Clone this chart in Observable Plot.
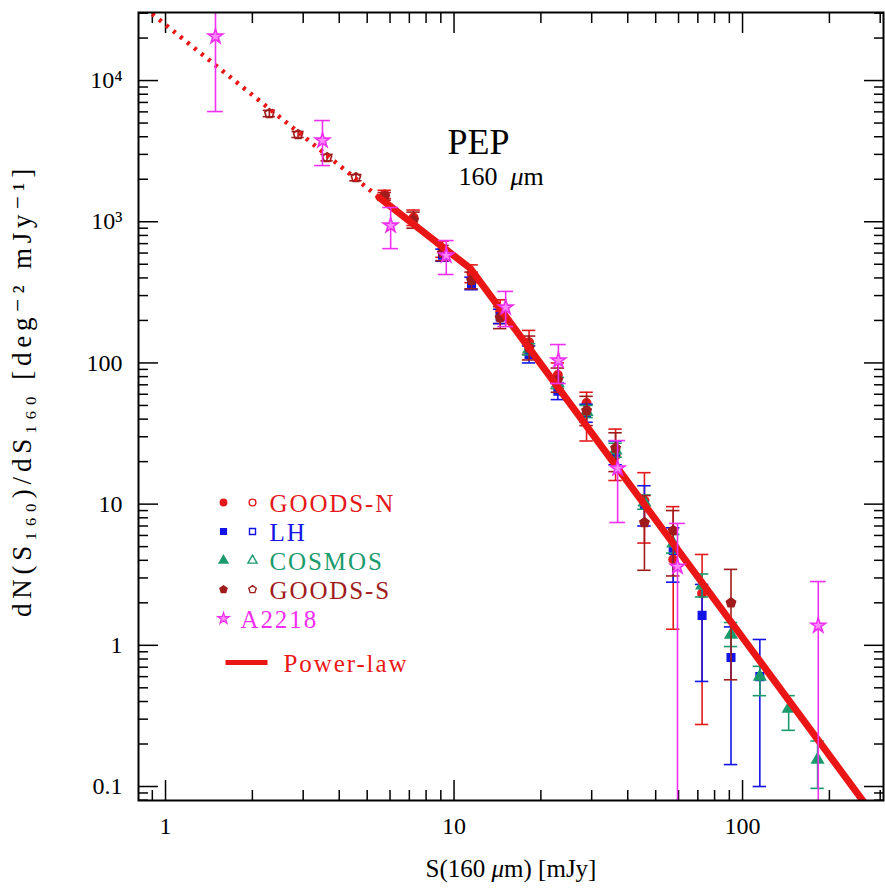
<!DOCTYPE html>
<html><head><meta charset="utf-8">
<script src="https://cdn.jsdelivr.net/npm/d3@7"></script>
<script src="https://cdn.jsdelivr.net/npm/@observablehq/plot@0.6"></script>
<style>body{margin:0;background:#fff}#chart svg{display:block}</style>
</head><body><div id="chart"></div>
<script>
// ---------------- data ----------------
// GOODS-S, open symbols (faint end)
const gsOpenS  = [2.29, 2.88, 3.63, 4.57];
const gsOpenN  = [5840, 4150, 2850, 2055];
const gsOpenLo = [5550, 3950, 2700, 1950];
const gsOpenHi = [6150, 4360, 3000, 2160];
// GOODS-N
const gnS  = [5.75, 7.24, 9.12, 11.5, 14.45, 18.2, 22.9, 28.8, 36.3, 45.7, 57.5, 72.4];
const gnN  = [1560, 1070, 640, 430, 230, 140, 82, 52, 22, 10.6, 4.05, 2.33];
const gnLo = [1460, 940, 560, 370, 190, 115, 66, 28, 14.7, 5.3, 1.3, 0.275];
const gnHi = [1670, 1210, 730, 495, 280, 170, 100, 62, 34, 16.7, 9.6, 4.4];
// LH
const lhS  = [9.12, 11.5, 14.45, 18.2, 22.9, 28.8, 36.3, 45.7, 57.5, 72.4, 91.2, 114.8];
const lhN  = [580, 365, 212, 115, 63, 44, 23, 9.8, 4.7, 1.63, 0.82, 0.60];
const lhLo = [525, 330, 190, 100, 55, 38, 19, 7.0, 2.8, 0.555, 0.143, 0.10];
const lhHi = [640, 405, 240, 132, 72, 51, 28, 13.5, 6.8, 2.7, 1.35, 1.1];
// COSMOS
const coS  = [18.2, 22.9, 28.8, 36.3, 45.7, 57.5, 72.4, 91.2, 114.8, 144.5, 182];
const coN  = [125, 72, 45, 24, 10.3, 5.26, 2.66, 1.19, 0.60, 0.356, 0.155];
const coLo = [114, 66, 41, 21.5, 9.2, 4.5, 2.2, 0.98, 0.44, 0.25, 0.097];
const coHi = [137, 79, 50, 27, 11.6, 6.1, 3.2, 1.45, 0.71, 0.44, 0.21];
// GOODS-S filled
const gsS  = [5.75, 7.24, 9.12, 11.5, 14.45, 18.2, 22.9, 28.8, 36.3, 45.7, 57.5, 91.2];
const gsN  = [1510, 1030, 600, 385, 210, 128, 76, 46, 25, 7.4, 6.5, 2.0];
const gsLo = [1420, 900, 530, 335, 175, 105, 62, 36, 17, 3.4, 3.1, 0.57];
const gsHi = [1610, 1170, 680, 440, 250, 155, 92, 58, 32, 11.5, 9.0, 3.45];
// A2218
const a2S  = [1.49, 3.5, 6.03, 9.4, 15.1, 23, 36.9, 59.5, 183];
const a2N  = [20500, 3760, 940, 577, 247, 104, 17.9, 3.61, 1.38];
const a2Lo = [6030, 2500, 645, 423, 181, 71.5, 7.41, 0.01, 0.01];
const a2Hi = [45000, 5210, 1262, 736, 321, 135, 28.2, 7.3, 2.83];
// power-law fit
const plFaintS = [0.85, 5.5];
const plFaintN = [32500, 1484];
const plS = [5.5, 11.4, 300];
const plN = [1484, 466, 0.054];

// ticks
const xMajor = [1, 10, 100];
const xMinor = [0.9, 2, 3, 4, 5, 6, 7, 8, 9, 20, 30, 40, 50, 60, 70, 80, 90, 200, 300];
const yMajor = [0.1, 1, 10, 100, 1000, 10000];
const yMajorLabels = ["0.1", "1", "10", "100", "10³", "10⁴"];
const yMinor = [0.08, 0.09, 0.2, 0.3, 0.4, 0.5, 0.6, 0.7, 0.8, 0.9, 2, 3, 4, 5, 6, 7, 8, 9,
  20, 30, 40, 50, 60, 70, 80, 90, 200, 300, 400, 500, 600, 700, 800, 900,
  2000, 3000, 4000, 5000, 6000, 7000, 8000, 9000, 20000, 30000];

// legend
const legendNames  = ["GOODS-N", "LH", "COSMOS", "GOODS-S", "A2218"];
const legendColors = ["#e3191b", "#1414e6", "#1b9a6c", "#a01c1c", "#f030f0"];
const fitLabel = "Power-law";
const fitColor = "#ea1616";
const yTitle = "dN(S₁₆₀)/dS₁₆₀ [deg⁻² mJy⁻¹]";
const xTitle = "S(160 μm) [mJy]";

// ---------------- helpers ----------------
const rows = (S, N, lo, hi) => S.map((s, i) => ({S: s, N: N[i], lo: lo[i], hi: hi[i]}));
const pentagon = {
  draw(ctx, size) {
    const r = Math.sqrt(size / Math.PI) * 1.15;
    for (let i = 0; i < 5; i++) {
      const a = -Math.PI / 2 + i * 2 * Math.PI / 5;
      const x = r * Math.cos(a), y = r * Math.sin(a);
      if (i) ctx.lineTo(x, y); else ctx.moveTo(x, y);
    }
    ctx.closePath();
  }
};
const hline = {draw(ctx) { ctx.moveTo(-21, 0); ctx.lineTo(21, 0); }};

function series(data, color, symbol, filled, r, capF) {
  return [
    Plot.ruleX(data, {x: "S", y1: "lo", y2: "hi", stroke: color, strokeWidth: 1.6, clip: true}),
    Plot.ruleY(data, {y: "hi", x1: d => d.S / capF, x2: d => d.S * capF, stroke: color, strokeWidth: 1.6, clip: true}),
    Plot.ruleY(data, {y: "lo", x1: d => d.S / capF, x2: d => d.S * capF, stroke: color, strokeWidth: 1.6, clip: true}),
    Plot.dot(data, {x: "S", y: "N", symbol, r, fill: filled === true ? color : filled || "none", stroke: color, strokeWidth: 1.6, clip: true})
  ];
}

const serif = "Liberation Serif, DejaVu Serif, serif";
const tickStyle = {stroke: "black", strokeWidth: 1.5, tickFormat: () => "", label: null};

// legend marks
const legendMarks = [];
const legSymbols = ["circle", "square", "triangle", pentagon];
const legText = {frameAnchor: "top-left", text: d => d, fontSize: 25, fontFamily: serif, textAnchor: "start", lineAnchor: "middle"};
legendNames.forEach((name, i) => {
  const dy = 490 + i * 29;
  if (i < 4) {
    legendMarks.push(Plot.dot([0], {frameAnchor: "top-left", dx: 85, dy, symbol: legSymbols[i], r: 3.2, fill: legendColors[i], stroke: legendColors[i]}));
    legendMarks.push(Plot.dot([0], {frameAnchor: "top-left", dx: 114, dy, symbol: legSymbols[i], r: 3.4, fill: "none", stroke: legendColors[i], strokeWidth: 1.4}));
    legendMarks.push(Plot.text([name], {...legText, dx: 131, dy: dy + 1, fill: legendColors[i]}));
  } else {
    legendMarks.push(Plot.dot([0], {frameAnchor: "top-left", dx: 85, dy, symbol: "star", r: 3.6, fill: "#ff8aff", stroke: legendColors[i], strokeWidth: 1.2}));
    legendMarks.push(Plot.text([name], {...legText, dx: 102, dy: dy + 1, fill: legendColors[i]}));
  }
});
legendMarks.push(Plot.dot([0], {frameAnchor: "top-left", dx: 108, dy: 650, symbol: hline, r: 4, stroke: fitColor, strokeWidth: 5}));
legendMarks.push(Plot.text([fitLabel], {...legText, dx: 145, dy: 651, fill: fitColor}));

const chart = Plot.plot({
  width: 885,
  height: 888,
  marginLeft: 138,
  marginRight: 2,
  marginTop: 12,
  marginBottom: 88,
  style: {fontFamily: serif, background: "white", color: "black"},
  x: {type: "log", domain: [0.806, 308], axis: null},
  y: {type: "log", domain: [0.0796, 30340], axis: null},
  marks: [
    // ticks (inward) on all four sides
    Plot.axisX(xMajor, {anchor: "bottom", tickSize: -20, ...tickStyle}),
    Plot.axisX(xMinor, {anchor: "bottom", tickSize: -10, ...tickStyle}),
    Plot.axisX(xMajor, {anchor: "top", tickSize: -20, ...tickStyle}),
    Plot.axisX(xMinor, {anchor: "top", tickSize: -10, ...tickStyle}),
    Plot.axisY(yMajor, {anchor: "left", tickSize: -20, ...tickStyle}),
    Plot.axisY(yMinor, {anchor: "left", tickSize: -10, ...tickStyle}),
    Plot.axisY(yMajor, {anchor: "right", tickSize: -20, ...tickStyle}),
    Plot.axisY(yMinor, {anchor: "right", tickSize: -10, ...tickStyle}),
    // tick labels
    Plot.axisX(xMajor, {anchor: "bottom", tickSize: 0, tickPadding: 16, fontSize: 24, fontFamily: serif, tickFormat: d => String(d), label: null}),
    Plot.axisY(yMajor, {anchor: "left", tickSize: 0, tickPadding: 16, fontSize: 24, fontFamily: serif, tickFormat: d => yMajorLabels[yMajor.indexOf(d)], label: null}),
    // data
    ...series(rows(gsOpenS, gsOpenN, gsOpenLo, gsOpenHi), "#a01c1c", pentagon, false, 4.2, 1.05),
    ...series(rows(gnS, gnN, gnLo, gnHi), "#e3191b", "circle", true, 4.2, 1.055),
    ...series(rows(lhS, lhN, lhLo, lhHi), "#1414e6", "square", true, 4.2, 1.055),
    ...series(rows(coS, coN, coLo, coHi), "#1b9a6c", "triangle", true, 4.2, 1.055),
    ...series(rows(gsS, gsN, gsLo, gsHi), "#a01c1c", pentagon, true, 4.2, 1.055),
    // power-law fit
    Plot.line(plFaintS.map((s, i) => ({S: s, N: plFaintN[i]})), {x: "S", y: "N", stroke: fitColor, strokeWidth: 4.5, strokeDasharray: "3,6", strokeLinecap: "butt", clip: true}),
    Plot.line(plS.map((s, i) => ({S: s, N: plN[i]})), {x: "S", y: "N", stroke: fitColor, strokeWidth: 7, clip: true}),
    ...series(rows(a2S, a2N, a2Lo, a2Hi), "#f030f0", "star", "#ff8aff", 4.6, 1.065),
    Plot.frame({stroke: "black", strokeWidth: 2}),
    // annotations
    Plot.text(["PEP"], {frameAnchor: "top-left", dx: 309, dy: 141, text: d => d, fontSize: 36, fontFamily: serif, textAnchor: "start", lineAnchor: "bottom"}),
    Plot.text(["160\u00a0\u00a0μm"], {frameAnchor: "top-left", dx: 320, dy: 172, text: d => d, fontSize: 26, fontFamily: serif, textAnchor: "start", lineAnchor: "bottom"}),
    Plot.text([xTitle], {frameAnchor: "bottom", dy: 68, text: d => d, fontSize: 25, fontFamily: serif, textAnchor: "middle", lineAnchor: "middle"}),
    Plot.text([yTitle], {frameAnchor: "left", dx: -116, dy: -16, rotate: -90, text: d => d, fontSize: 27, fontFamily: serif, textAnchor: "middle", lineAnchor: "middle"}),
    ...legendMarks
  ]
});

// letter spacing (selected by content), then italic mu
chart.querySelectorAll("text").forEach(t => {
  const s = t.textContent;
  if (legendNames.includes(s) || s === fitLabel) t.setAttribute("style", "letter-spacing:1.9px");
  if (s === yTitle) t.setAttribute("style", "letter-spacing:4.8px");
});
chart.querySelectorAll("text").forEach(t => {
  if (t.children.length === 0 && t.textContent.includes("μ")) {
    const parts = t.textContent.split("μ");
    t.textContent = "";
    parts.forEach((p, i) => {
      if (i > 0) {
        const ts = document.createElementNS("http://www.w3.org/2000/svg", "tspan");
        ts.setAttribute("font-style", "italic");
        ts.textContent = "μ";
        t.appendChild(ts);
      }
      t.appendChild(document.createTextNode(p));
    });
  }
});

document.getElementById("chart").appendChild(chart);
</script></body></html>
